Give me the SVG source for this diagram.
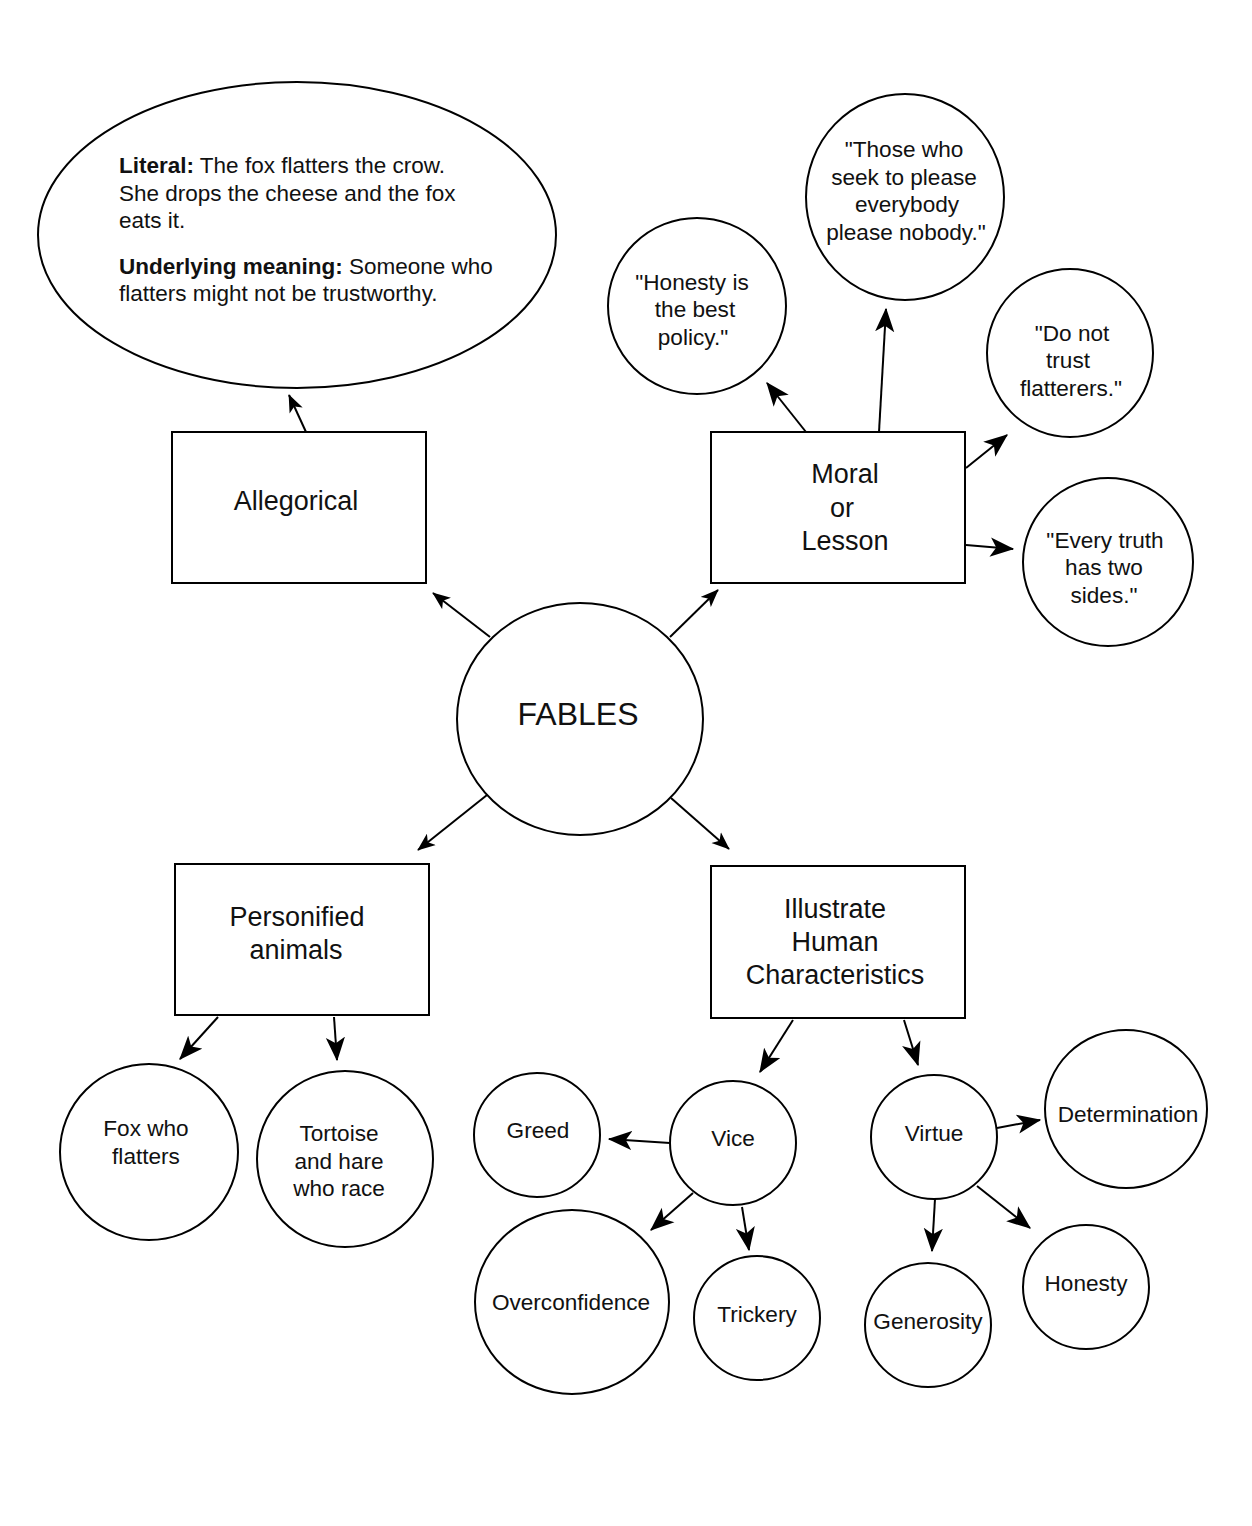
<svg xmlns="http://www.w3.org/2000/svg" width="1252" height="1526" viewBox="0 0 1252 1526">
<style>
.shape{fill:#fff;stroke:#000;stroke-width:2}
.t{font-family:"Liberation Sans",Arial,Helvetica,sans-serif;font-size:22.6px;fill:#111;text-anchor:middle}
.tl{font-family:"Liberation Sans",Arial,Helvetica,sans-serif;font-size:22.5px;fill:#111}
.b{font-weight:bold}
.big{font-size:27px}
.huge{font-size:32px}
.c{fill:none;stroke:#000;stroke-width:2}
.s{marker-end:url(#ah)}
.l{marker-end:url(#ahl)}
</style>
<defs>
<marker id="ah" viewBox="0 0 20 16" refX="19" refY="8" markerWidth="18" markerHeight="15" markerUnits="userSpaceOnUse" orient="auto">
<path d="M0,0 L20,8 L0,16 L5,8 z" fill="#000"/>
</marker>
<marker id="ahl" viewBox="0 0 20 16" refX="19" refY="8" markerWidth="24" markerHeight="20" markerUnits="userSpaceOnUse" orient="auto">
<path d="M0,0 L20,8 L0,16 L5,8 z" fill="#000"/>
</marker>
</defs>
<rect width="1252" height="1526" fill="#fff"/>

<g id="connectors">
<line class="c s" x1="306" y1="432" x2="289" y2="395"/>
<line class="c s" x1="490" y1="637" x2="433" y2="593"/>
<line class="c s" x1="670" y1="637" x2="718" y2="590"/>
<line class="c s" x1="487" y1="795" x2="418" y2="850"/>
<line class="c s" x1="671" y1="798" x2="729" y2="849"/>
<line class="c l" x1="806" y1="432" x2="767" y2="383"/>
<line class="c l" x1="879" y1="432" x2="886" y2="309"/>
<line class="c l" x1="966" y1="468" x2="1007" y2="435"/>
<line class="c l" x1="966" y1="545" x2="1013" y2="549"/>
<line class="c l" x1="218" y1="1017" x2="180" y2="1059"/>
<line class="c l" x1="334" y1="1017" x2="337" y2="1060"/>
<line class="c l" x1="793" y1="1020" x2="760" y2="1072"/>
<line class="c l" x1="904" y1="1020" x2="918" y2="1065"/>
<line class="c l" x1="670" y1="1143" x2="609" y2="1139"/>
<line class="c l" x1="693" y1="1193" x2="651" y2="1230"/>
<line class="c l" x1="742" y1="1207" x2="749" y2="1250"/>
<line class="c l" x1="997" y1="1128" x2="1040" y2="1120"/>
<line class="c l" x1="935" y1="1199" x2="932" y2="1251"/>
<line class="c l" x1="977" y1="1186" x2="1030" y2="1228"/>
</g>

<g id="literal">
<ellipse class="shape" cx="297" cy="235" rx="259" ry="153"/>
<text class="tl" x="119" y="173"><tspan class="b">Literal:</tspan> The fox flatters the crow.</text>
<text class="tl" x="119" y="201">She drops the cheese and the fox</text>
<text class="tl" x="119" y="228">eats it.</text>
<text class="tl" x="119" y="274"><tspan class="b">Underlying meaning:</tspan> Someone who</text>
<text class="tl" x="119" y="301">flatters might not be trustworthy.</text>
</g>

<g id="allegorical">
<rect class="shape" x="172" y="432" width="254" height="151"/>
<text class="t big" x="296" y="510">Allegorical</text>
</g>

<g id="moral">
<rect class="shape" x="711" y="432" width="254" height="151"/>
<text class="t big" x="845" y="483">Moral</text>
<text class="t big" x="842" y="517">or</text>
<text class="t big" x="845" y="550">Lesson</text>
</g>

<g id="fables">
<ellipse class="shape" cx="580" cy="719" rx="123" ry="116"/>
<text class="t huge" x="578" y="725">FABLES</text>
</g>

<g id="personified">
<rect class="shape" x="175" y="864" width="254" height="151"/>
<text class="t big" x="297" y="926">Personified</text>
<text class="t big" x="296" y="959">animals</text>
</g>

<g id="illustrate">
<rect class="shape" x="711" y="866" width="254" height="152"/>
<text class="t big" x="835" y="918">Illustrate</text>
<text class="t big" x="835" y="951">Human</text>
<text class="t big" x="835" y="984">Characteristics</text>
</g>

<g id="honesty-policy">
<ellipse class="shape" cx="697" cy="306" rx="89" ry="88"/>
<text class="t" x="692" y="290">"Honesty is</text>
<text class="t" x="695" y="317">the best</text>
<text class="t" x="693" y="345">policy."</text>
</g>

<g id="those-who">
<ellipse class="shape" cx="905" cy="197" rx="99" ry="103"/>
<text class="t" x="904" y="157">"Those who</text>
<text class="t" x="904" y="185">seek to please</text>
<text class="t" x="907" y="212">everybody</text>
<text class="t" x="906" y="240">please nobody."</text>
</g>

<g id="do-not-trust">
<ellipse class="shape" cx="1070" cy="353" rx="83" ry="84"/>
<text class="t" x="1072" y="341">"Do not</text>
<text class="t" x="1068" y="368">trust</text>
<text class="t" x="1071" y="396">flatterers."</text>
</g>

<g id="every-truth">
<ellipse class="shape" cx="1108" cy="562" rx="85" ry="84"/>
<text class="t" x="1105" y="548">"Every truth</text>
<text class="t" x="1104" y="575">has two</text>
<text class="t" x="1104" y="603">sides."</text>
</g>

<g id="fox">
<ellipse class="shape" cx="149" cy="1152" rx="89" ry="88"/>
<text class="t" x="146" y="1136">Fox who</text>
<text class="t" x="146" y="1164">flatters</text>
</g>

<g id="tortoise">
<ellipse class="shape" cx="345" cy="1159" rx="88" ry="88"/>
<text class="t" x="339" y="1141">Tortoise</text>
<text class="t" x="339" y="1169">and hare</text>
<text class="t" x="339" y="1196">who race</text>
</g>

<g id="greed">
<ellipse class="shape" cx="537" cy="1135" rx="63" ry="62"/>
<text class="t" x="538" y="1138">Greed</text>
</g>

<g id="vice">
<ellipse class="shape" cx="733" cy="1143" rx="63" ry="62"/>
<text class="t" x="733" y="1146">Vice</text>
</g>

<g id="virtue">
<ellipse class="shape" cx="934" cy="1137" rx="63" ry="62"/>
<text class="t" x="934" y="1141">Virtue</text>
</g>

<g id="determination">
<ellipse class="shape" cx="1126" cy="1109" rx="81" ry="79"/>
<text class="t" x="1128" y="1122">Determination</text>
</g>

<g id="overconfidence">
<ellipse class="shape" cx="572" cy="1302" rx="97" ry="92"/>
<text class="t" x="571" y="1310">Overconfidence</text>
</g>

<g id="trickery">
<ellipse class="shape" cx="757" cy="1318" rx="63" ry="62"/>
<text class="t" x="757" y="1322">Trickery</text>
</g>

<g id="generosity">
<ellipse class="shape" cx="928" cy="1325" rx="63" ry="62"/>
<text class="t" x="928" y="1329">Generosity</text>
</g>

<g id="honesty">
<ellipse class="shape" cx="1086" cy="1287" rx="63" ry="62"/>
<text class="t" x="1086" y="1291">Honesty</text>
</g>
</svg>
